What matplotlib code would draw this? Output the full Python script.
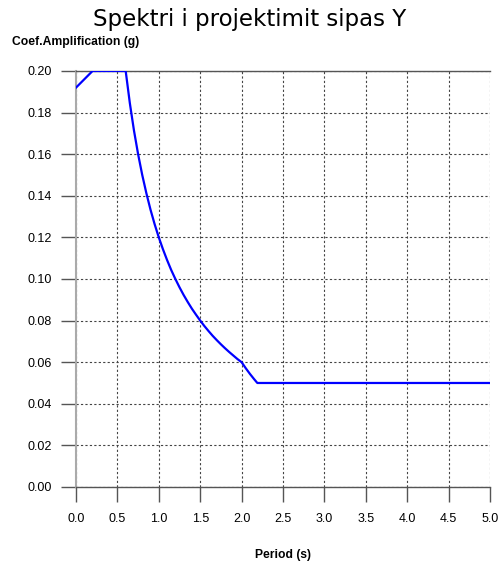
import matplotlib
matplotlib.use("Agg")
import matplotlib.pyplot as plt

period = [0.0, 0.2, 0.6, 0.65, 0.7, 0.75, 0.8, 0.85, 0.9, 0.95, 1.0, 1.05, 1.1, 1.15, 1.2,
          1.25, 1.3, 1.35, 1.4, 1.45, 1.5, 1.55, 1.6, 1.65, 1.7, 1.75, 1.8, 1.85, 1.9, 1.95,
          2.0, 2.05, 2.1, 2.15, 2.19, 3.0, 4.0, 5.0]
coef = [0.192, 0.2, 0.2, 0.1846, 0.1714, 0.16, 0.15, 0.1412, 0.1333, 0.1263, 0.12, 0.1143,
        0.1091, 0.1043, 0.1, 0.096, 0.0923, 0.0889, 0.0857, 0.0828, 0.08, 0.0774, 0.075,
        0.0727, 0.0706, 0.0686, 0.0667, 0.0649, 0.0632, 0.0615, 0.06, 0.0571, 0.0544, 0.0519,
        0.05, 0.05, 0.05, 0.05]
xticks = [0.0, 0.5, 1.0, 1.5, 2.0, 2.5, 3.0, 3.5, 4.0, 4.5, 5.0]
yticks = [0.00, 0.02, 0.04, 0.06, 0.08, 0.10, 0.12, 0.14, 0.16, 0.18, 0.20]

fig = plt.figure(figsize=(5.0, 5.66), dpi=100)
ax = fig.add_axes([0.152, 0.1396, 0.828, 0.735])

ax.plot(period, coef, color="#0000ff", linewidth=1.6, zorder=3)
ax.set_xlim(0, 5)
ax.set_ylim(0, 0.2)
ax.set_xticks(xticks)
ax.set_yticks(yticks)
ax.set_xticklabels([f"{v:.1f}" for v in xticks])
ax.set_yticklabels([f"{v:.2f}" for v in yticks])

ax.grid(True, linestyle=(0, (2, 2)), color="#444444", linewidth=0.8)
for s in ["top", "bottom"]:
    ax.spines[s].set_color("#555555")
    ax.spines[s].set_linewidth(1.0)
ax.spines["left"].set_color("#aaaaaa")
ax.spines["left"].set_linewidth(1.5)
ax.spines["right"].set_visible(False)

for lab in ax.get_xticklabels() + ax.get_yticklabels():
    lab.set_family("Liberation Sans")
    lab.set_fontsize(9)
ax.tick_params(axis="both", direction="out", length=10.5, width=1.0, color="#555555")
ax.tick_params(axis="y", pad=7)
ax.tick_params(axis="x", pad=8)

fig.text(0.5, 0.965, "Spektri i projektimit sipas Y", ha="center", va="center",
         fontsize=16.5, family="DejaVu Sans")
fig.text(0.024, 0.925, "Coef.Amplification (g)", ha="left", va="center",
         fontsize=8.7, fontweight="bold", family="Liberation Sans")
fig.text(0.566, 0.019, "Period (s)", ha="center", va="center",
         fontsize=8.7, fontweight="bold", family="Liberation Sans")

fig.savefig("out.png", dpi=100)
